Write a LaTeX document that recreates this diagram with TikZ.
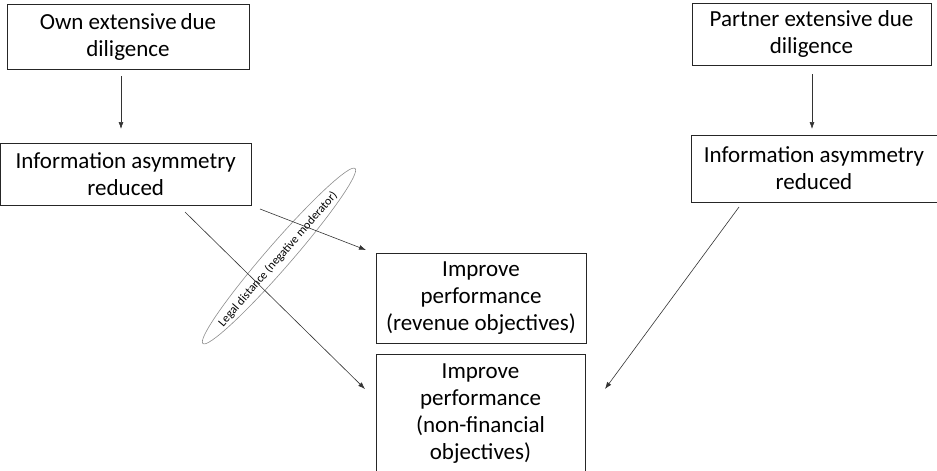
\documentclass[tikz,border=0pt]{standalone}
\usepackage{fontspec}
\setmainfont{Carlito}
\usetikzlibrary{shapes.geometric,arrows.meta}
\tikzset{
  box/.style={draw=black!85, line width=0.9pt, align=center, inner sep=0pt,
    font=\fontsize{23}{27}\selectfont},
  conn/.style={draw=black!80, line width=0.6pt, -{Latex[length=7pt,width=5pt]}},
  moder/.style={ellipse, draw=black!45, line width=0.6pt, inner sep=0pt},
  modertext/.style={inner sep=0pt, font=\fontsize{12}{14}\selectfont}
}
\begin{document}
\begin{tikzpicture}[x=1pt,y=-1pt]
\useasboundingbox (0,0) rectangle (937,471);
\node[box, minimum width=242, minimum height=65] (own) at (128,36.5) {Own extensive\,due\\diligence};
\node[box, minimum width=250.5, minimum height=62] (infoL) at (125.75,174) {Information asymmetry\\reduced};
\node[box, minimum width=239, minimum height=62] (partner) at (811.5,34) {Partner extensive due\\diligence};
\node[box, minimum width=246, minimum height=67] (infoR) at (814,168.5) {Information asymmetry\\reduced};
\node[box, minimum width=210, minimum height=90] (rev) at (481,298) {Improve\\performance\\(revenue objectives)};
\node[box, minimum width=209, minimum height=120] (nonfin) at (480.5,414) {Improve\\performance\\(non-financial\\objectives)};
\node[moder, minimum width=232, minimum height=25, rotate=49] (legal) at (279,256) {};
\node[modertext, rotate=49] (legaltext) at (278,259) {Legal distance (negative moderator)};
\coordinate (a1s) at (121,76);
\coordinate (a1e) at (121,129);
\coordinate (a2s) at (812,74);
\coordinate (a2e) at (812,129);
\coordinate (a3s) at (185,212);
\coordinate (a3e) at (365,389);
\coordinate (a4s) at (260,209);
\coordinate (a4e) at (366,250);
\coordinate (a5s) at (739,207);
\coordinate (a5e) at (605,389);
\draw[conn] (a1s) -- (a1e);
\draw[conn] (a2s) -- (a2e);
\draw[conn] (a3s) -- (a3e);
\draw[conn] (a4s) -- (a4e);
\draw[conn] (a5s) -- (a5e);
\end{tikzpicture}
\end{document}
